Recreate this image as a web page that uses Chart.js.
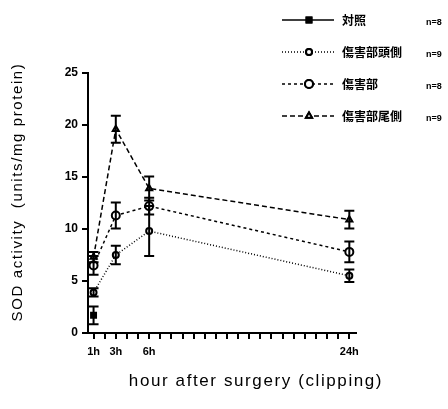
<!DOCTYPE html>
<html>
<head>
<meta charset="utf-8">
<script src="https://cdn.jsdelivr.net/npm/chart.js@4"></script>
<style>
  html, body { margin: 0; padding: 0; background: #fff; }
  #wrap { width: 448px; height: 409px; position: relative; }
</style>
</head>
<body>
<div id="wrap"><canvas id="c" width="448" height="409"></canvas></div>
<script>
// hours after surgery
var hours = [1, 3, 6, 24];
var hourTicks = [];
for (var h = 1; h <= 24; h++) hourTicks.push(h);
var hourLabels = { 1: '1h', 3: '3h', 6: '6h', 24: '24h' };
var yTicks = [0, 5, 10, 15, 20, 25];

// SOD activity, mean and error per group
var control = [1.7];
var controlErr = [0.85];
var rostral = [3.9, 7.5, 9.8, 5.5];
var rostralErr = [0.4, 0.9, 2.4, 0.6];
var lesion = [6.5, 11.3, 12.2, 7.8];
var lesionErr = [0.9, 1.25, 0.8, 1.0];
var caudal = [7.3, 19.6, 13.9, 10.9];
var caudalErr = [0.5, 1.3, 1.15, 0.85];

var names = ['対照', '傷害部頭側', '傷害部', '傷害部尾側'];
var counts = ['n=8', 'n=9', 'n=8', 'n=9'];

function pts(vals) {
  return vals.map(function (v, i) { return { x: hours[i], y: v }; });
}

var errorBars = {
  id: 'errorBars',
  afterDatasetsDraw: function (chart) {
    var ctx = chart.ctx, xs = chart.scales.x, ys = chart.scales.y;
    ctx.save();
    ctx.strokeStyle = '#000';
    ctx.lineWidth = 2;
    chart.data.datasets.forEach(function (ds) {
      ds.data.forEach(function (p, i) {
        var e = ds.errors[i];
        var x = xs.getPixelForValue(p.x);
        var y1 = ys.getPixelForValue(p.y + e);
        var y2 = ys.getPixelForValue(p.y - e);
        ctx.beginPath();
        ctx.moveTo(x, y1); ctx.lineTo(x, y2);
        ctx.moveTo(x - 5, y1); ctx.lineTo(x + 5, y1);
        ctx.moveTo(x - 5, y2); ctx.lineTo(x + 5, y2);
        ctx.stroke();
      });
    });
    ctx.restore();
  }
};

// axis titles and the key at the top right
var extras = {
  id: 'extras',
  afterDraw: function (chart) {
    var ctx = chart.ctx;
    ctx.save();
    ctx.fillStyle = '#000';
    ctx.textBaseline = 'middle';

    ctx.save();
    ctx.translate(18, 192);
    ctx.rotate(-Math.PI / 2);
    ctx.font = '15px "Liberation Sans", Arial, sans-serif';
    ctx.letterSpacing = '1.6px';
    ctx.textAlign = 'center';
    ctx.fillText('SOD activity  (units/mg protein)', 0, 0);
    ctx.restore();

    ctx.font = '17px "Liberation Sans", Arial, sans-serif';
    ctx.letterSpacing = '1.6px';
    ctx.textAlign = 'center';
    ctx.fillText('hour after surgery (clipping)', 256, 381);
    ctx.letterSpacing = '0px';

    var rows = [20, 52, 84, 116];
    chart.data.datasets.forEach(function (ds, i) {
      var y = rows[i];
      ctx.strokeStyle = '#000';
      ctx.lineWidth = ds.borderWidth;
      ctx.setLineDash(ds.borderDash || []);
      ctx.beginPath();
      ctx.moveTo(282, y); ctx.lineTo(334, y);
      ctx.stroke();
      ctx.setLineDash([]);
      ctx.lineWidth = ds.pointBorderWidth;
      Chart.helpers.drawPoint(ctx, {
        pointStyle: ds.pointStyle, radius: ds.pointRadius, borderWidth: ds.pointBorderWidth
      }, 309, y);
      ctx.fillStyle = ds.pointBackgroundColor;
      ctx.fill();
      ctx.stroke();
      ctx.fillStyle = '#000';
      ctx.textAlign = 'left';
      ctx.font = 'bold 12px "Noto Sans CJK JP", sans-serif';
      ctx.fillText(names[i], 342, y);
      ctx.font = 'bold 9px "Liberation Sans", Arial, sans-serif';
      ctx.fillText(counts[i], 426, y + 3);
    });
    ctx.restore();
  }
};

function series(label, vals, errs, style, radius, fill, dash) {
  return {
    label: label,
    data: pts(vals),
    errors: errs,
    borderColor: '#000',
    borderWidth: 1.5,
    borderDash: dash,
    pointStyle: style,
    pointRadius: radius,
    pointBorderWidth: 2,
    pointBorderColor: '#000',
    pointBackgroundColor: fill,
    showLine: true,
    fill: false,
    tension: 0
  };
}

new Chart(document.getElementById('c'), {
  type: 'scatter',
  data: {
    datasets: [
      series(names[0], control, controlErr, 'rect', 3.5, '#000', []),
      series(names[1], rostral, rostralErr, 'circle', 3, '#fff', [1, 2]),
      series(names[2], lesion, lesionErr, 'circle', 4, '#fff', [3, 3]),
      series(names[3], caudal, caudalErr, 'triangle', 3.5, '#fff', [5, 3])
    ]
  },
  options: {
    responsive: false,
    animation: false,
    layout: { padding: { top: 73, right: 92, left: 0, bottom: 0 } },
    plugins: { legend: { display: false }, tooltip: { enabled: false } },
    scales: {
      x: {
        type: 'linear',
        min: 0.5,
        max: 24.6,
        afterFit: function (s) { s.height = 76; },
        afterBuildTicks: function (s) {
          s.ticks = hourTicks.map(function (v) { return { value: v }; });
        },
        grid: { drawOnChartArea: false, color: '#000', lineWidth: 2, tickLength: 6 },
        border: { color: '#000', width: 2 },
        ticks: {
          autoSkip: false,
          maxRotation: 0,
          color: '#000',
          padding: 6,
          font: { family: '"Liberation Sans", Arial, sans-serif', size: 11, weight: 'bold' },
          callback: function (v) { return hourLabels[v] || ''; }
        }
      },
      y: {
        min: 0,
        max: 25,
        afterFit: function (s) { s.width = 88; },
        afterBuildTicks: function (s) {
          s.ticks = yTicks.map(function (v) { return { value: v }; });
        },
        grid: { drawOnChartArea: false, color: '#000', lineWidth: 2, tickLength: 6 },
        border: { color: '#000', width: 2 },
        ticks: {
          color: '#000',
          padding: 4,
          font: { family: '"Liberation Sans", Arial, sans-serif', size: 12, weight: 'bold' }
        }
      }
    }
  },
  plugins: [errorBars, extras]
});
</script>
</body>
</html>
